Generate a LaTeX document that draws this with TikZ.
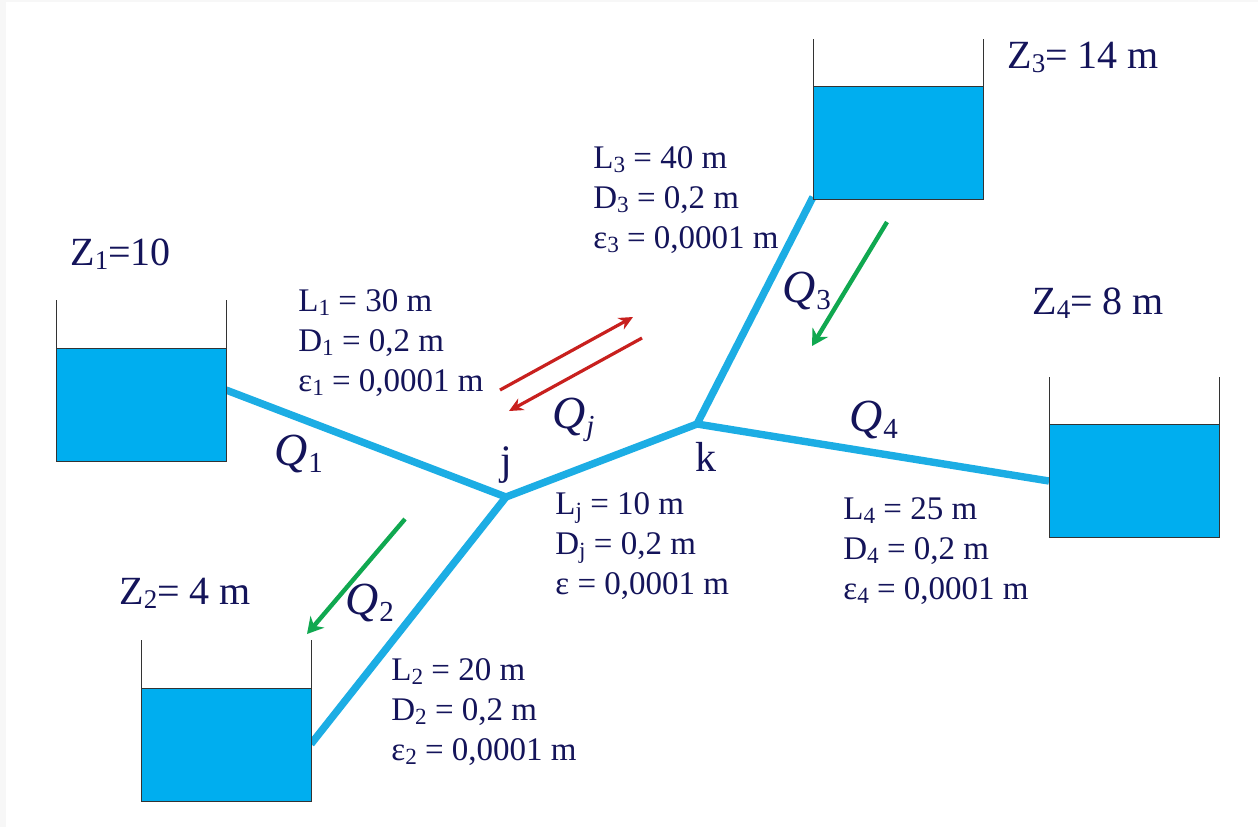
\documentclass[tikz,border=0pt]{standalone}
\usepackage{fontspec}
\setmainfont{Liberation Serif}
\usetikzlibrary{arrows.meta}
\definecolor{navy}{HTML}{14145A}
\definecolor{waterblue}{HTML}{00AEEF}
\definecolor{pipeblue}{HTML}{1CADE4}
\definecolor{flowred}{HTML}{C8201E}
\definecolor{flowgreen}{HTML}{10A850}
\tikzset{
  water/.style={draw=black!80,line width=0.4pt,fill=waterblue,minimum width=85pt,minimum height=56.5pt,inner sep=0pt,outer sep=0pt},
  wall/.style={black!80,line width=0.4pt},
  pipe/.style={pipeblue,line width=3.7pt,line join=round},
  redflow/.style={flowred,line width=1.6pt,-{Stealth[length=7pt,width=6.5pt]}},
  greenflow/.style={flowgreen,line width=2.2pt,-{Stealth[length=8pt,width=9pt]}},
  data/.style={anchor=north west,align=left,inner sep=0pt,text=navy,font=\fontsize{16.5}{20}\selectfont},
  level/.style={anchor=base west,inner sep=0pt,text=navy,font=\fontsize{20}{24}\selectfont},
  rate/.style={anchor=base west,inner sep=0pt,text=navy,font=\fontsize{23}{24}\selectfont\itshape},
  junction/.style={anchor=base,inner sep=0pt,text=navy,font=\fontsize{21}{24}\selectfont}
}
\newcommand{\sbs}[1]{{\fontsize{11.6}{11}\selectfont\raisebox{-2pt}{#1}}}
\newcommand{\ssbs}[1]{{\fontsize{13.5}{12}\selectfont\raisebox{-2pt}{#1}}}
\newcommand{\qsbs}[1]{\kern0.4pt{\fontsize{14.5}{15}\selectfont\raisebox{-3.5pt}{#1}}}
\begin{document}
\begin{tikzpicture}[x=0.5pt,y=-0.5pt]
\useasboundingbox (0,0) rectangle (1258,827);
\fill[black!3] (0,0) rectangle (1258,827);
\fill[white] (6,2) rectangle (1258,827);
% pipes
\coordinate (j) at (506,497);
\coordinate (k) at (697,424);
\coordinate (endone) at (226,390);
\coordinate (endtwo) at (311,744);
\coordinate (endthree) at (813,197);
\coordinate (endfour) at (1049,481);
\draw[pipe] (endone) -- (j);
\draw[pipe] (endtwo) -- (j);
\draw[pipe] (endthree) -- (k);
\draw[pipe] (endfour) -- (k);
\draw[pipe] (j) -- (k);
% tanks
\node[water] (tankone) at (141,404.5) {};
\node[water] (tanktwo) at (226,744.5) {};
\node[water] (tankthree) at (898,143) {};
\node[water] (tankfour) at (1134,481) {};
\draw[wall] (tankone.north west) -- ++(0,-48) (tankone.north east) -- ++(0,-48);
\draw[wall] (tanktwo.north west) -- ++(0,-48) (tanktwo.north east) -- ++(0,-48);
\draw[wall] (tankthree.north west) -- ++(0,-48) (tankthree.north east) -- ++(0,-48);
\draw[wall] (tankfour.north west) -- ++(0,-48) (tankfour.north east) -- ++(0,-48);
% flow arrows
\coordinate (ra) at (500,390);
\coordinate (rb) at (633,317);
\coordinate (rc) at (642,338);
\coordinate (rd) at (509,411);
\coordinate (ga) at (887,222);
\coordinate (gb) at (812,346);
\coordinate (gc) at (405,519);
\coordinate (gd) at (307,634);
\draw[redflow] (ra) -- (rb);
\draw[redflow] (rc) -- (rd);
\draw[greenflow] (ga) -- (gb);
\draw[greenflow] (gc) -- (gd);
% levels
\node[level] (zone) at (70,265) {Z\ssbs{1}=10};
\node[level] (ztwo) at (119,604) {Z\ssbs{2}= 4 m};
\node[level] (zthree) at (1007,68) {Z\ssbs{3}= 14 m};
\node[level] (zfour) at (1032,314) {Z\ssbs{4}= 8 m};
% pipe data
\node[data] (dataone) at (298,289) {L\sbs{1} = 30 m\\D\sbs{1} = 0,2 m\\ε\sbs{1} = 0,0001 m};
\node[data] (datatwo) at (391,658) {L\sbs{2} = 20 m\\D\sbs{2} = 0,2 m\\ε\sbs{2} = 0,0001 m};
\node[data] (datathree) at (593,146) {L\sbs{3} = 40 m\\D\sbs{3} = 0,2 m\\ε\sbs{3} = 0,0001 m};
\node[data] (datafour) at (843,497) {L\sbs{4} = 25 m\\D\sbs{4} = 0,2 m\\ε\sbs{4} = 0,0001 m};
\node[data] (dataj) at (555,492) {L\sbs{j} = 10 m\\D\sbs{j} = 0,2 m\\ε = 0,0001 m};
% rates
\node[rate] (qone) at (274,465) {Q\qsbs{\upshape 1}};
\node[rate] (qtwo) at (345,614) {Q\qsbs{\upshape 2}};
\node[rate] (qthree) at (782,302) {Q\qsbs{\upshape 3}};
\node[rate] (qfour) at (849,431) {Q\qsbs{\upshape 4}};
\node[rate] (qj) at (552,428) {Q\qsbs{j}};
% junctions
\node[junction] at (506,474) {j};
\node[junction] at (706,471) {k};
\end{tikzpicture}
\end{document}
